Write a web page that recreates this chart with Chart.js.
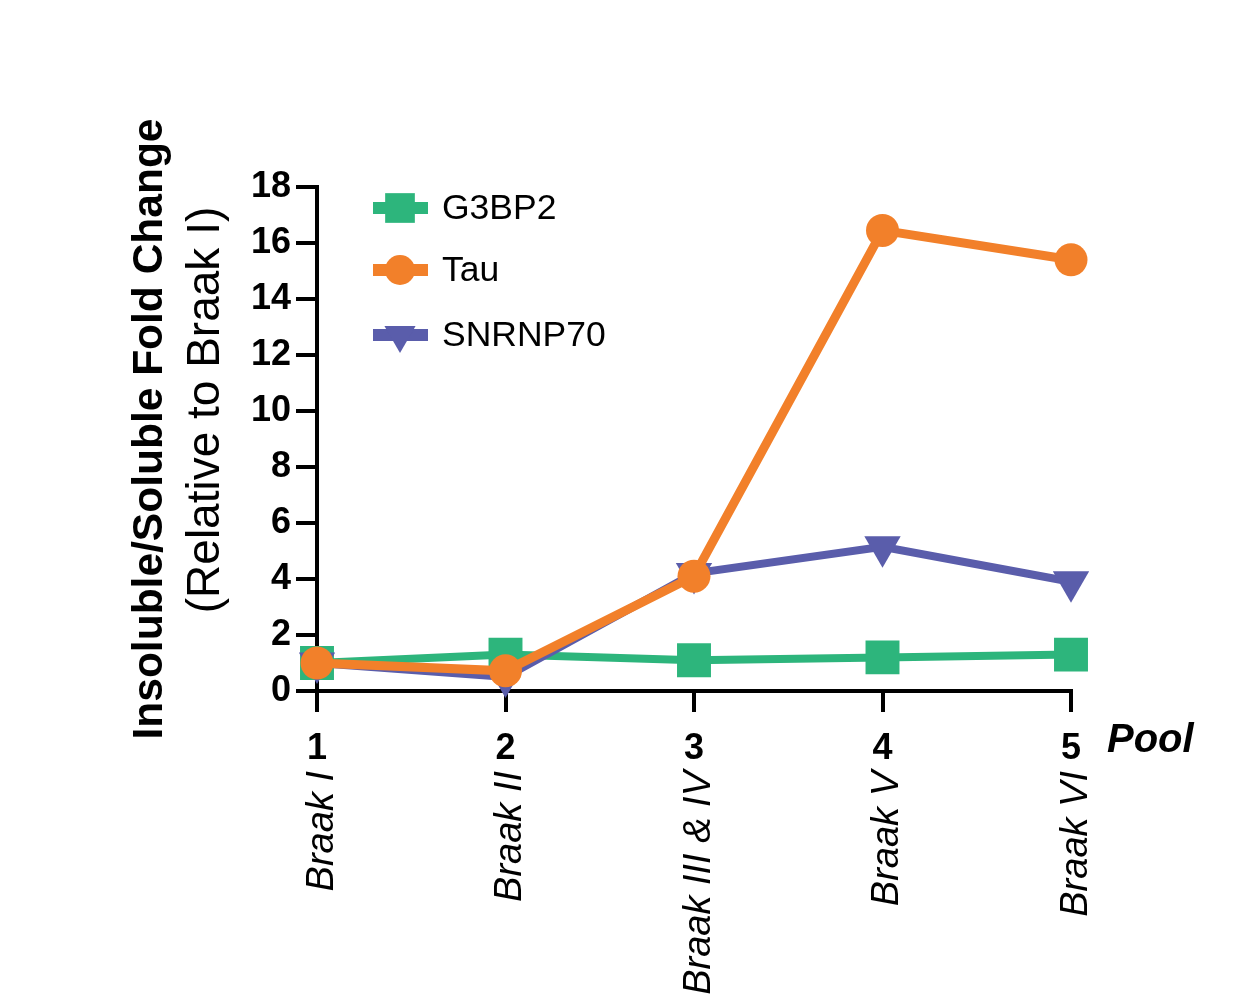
<!DOCTYPE html>
<html>
<head>
<meta charset="utf-8">
<script src="https://cdn.jsdelivr.net/npm/chart.js@4.4.1/dist/chart.umd.min.js"></script>
<style>
  html, body { margin: 0; padding: 0; background: #fff; }
  #wrap { width: 1235px; height: 996px; }
</style>
</head>
<body>
<div id="wrap"><canvas id="chart" width="1235" height="996"></canvas></div>
<script>
// Valeurs
const pools = [1, 2, 3, 4, 5];
const stageLabels = ['Braak I', 'Braak II', 'Braak III & IV', 'Braak V', 'Braak VI'];
const g3bp2 = [1.0, 1.3, 1.1, 1.2, 1.3];
const tau = [1.0, 0.72, 4.1, 16.45, 15.4];
const snrnp70 = [1.0, 0.5, 4.2, 5.15, 3.9];
const yTicks = [0, 2, 4, 6, 8, 10, 12, 14, 16, 18];

const FONT = '"Liberation Sans", Arial, Helvetica, sans-serif';

function toPoints(values) {
    return pools.map((p, i) => ({ x: p, y: values[i] }));
}

// Légende dessinée à la main (ligne + marqueur), axe Y en deux lignes, libellés Braak pivotés
const extrasPlugin = {
    id: 'extras',
    afterDraw(chart) {
        const ctx = chart.ctx;
        const xScale = chart.scales.x;

        // Titre de l'axe Y
        ctx.save();
        ctx.fillStyle = '#000';
        ctx.textAlign = 'center';
        ctx.textBaseline = 'middle';
        ctx.translate(150, 429);
        ctx.rotate(-Math.PI / 2);
        ctx.font = 'bold 42.5px ' + FONT;
        ctx.fillText('Insoluble/Soluble Fold Change', 0, 0);
        ctx.restore();

        ctx.save();
        ctx.fillStyle = '#000';
        ctx.textAlign = 'center';
        ctx.textBaseline = 'middle';
        ctx.translate(206, 410);
        ctx.rotate(-Math.PI / 2);
        ctx.font = '46px ' + FONT;
        ctx.fillText('(Relative to Braak I)', 0, 0);
        ctx.restore();

        // Libellés Braak sous les numéros de pool
        stageLabels.forEach((label, i) => {
            const px = xScale.getPixelForValue(pools[i]);
            ctx.save();
            ctx.fillStyle = '#000';
            ctx.font = 'italic 38px ' + FONT;
            ctx.textAlign = 'right';
            ctx.textBaseline = 'middle';
            ctx.translate(px + 5, 771);
            ctx.rotate(-Math.PI / 2);
            ctx.fillText(label, 0, 0);
            ctx.restore();
        });

        // "Pool"
        ctx.save();
        ctx.fillStyle = '#000';
        ctx.font = 'bold italic 40px ' + FONT;
        ctx.textAlign = 'left';
        ctx.textBaseline = 'middle';
        ctx.fillText('Pool', 1107, 741);
        ctx.restore();

        // Légende
        const rows = [208, 270, 335];
        const legendOrder = [0, 1, 2];
        legendOrder.forEach((dsIndex, r) => {
            const ds = chart.data.datasets[dsIndex];
            const y = rows[r];
            ctx.save();
            ctx.strokeStyle = ds.borderColor;
            ctx.lineWidth = 12;
            ctx.beginPath();
            ctx.moveTo(373, y);
            ctx.lineTo(428, y);
            ctx.stroke();
            ctx.fillStyle = ds.borderColor;
            ctx.strokeStyle = ds.borderColor;
            Chart.helpers.drawPoint(ctx, {
                pointStyle: ds.pointStyle,
                radius: ds.legendRadius,
                rotation: ds.pointRotation || 0,
                borderWidth: 0
            }, 400, y);
            ctx.fillStyle = '#000';
            ctx.font = '35.5px ' + FONT;
            ctx.textAlign = 'left';
            ctx.textBaseline = 'middle';
            ctx.fillText(ds.label, 442, y + 1);
            ctx.restore();
        });
    }
};

const ctx = document.getElementById('chart').getContext('2d');
new Chart(ctx, {
    type: 'line',
    data: {
        datasets: [
            {
                label: 'G3BP2',
                data: toPoints(g3bp2),
                borderColor: '#2DB57C',
                backgroundColor: '#2DB57C',
                pointBackgroundColor: '#2DB57C',
                borderWidth: 8,
                pointStyle: 'rect',
                pointRadius: 24,
                legendRadius: 21,
                pointBorderWidth: 0,
                order: 3,
                clip: false
            },
            {
                label: 'Tau',
                data: toPoints(tau),
                borderColor: '#F2802A',
                backgroundColor: '#F2802A',
                pointBackgroundColor: '#F2802A',
                borderWidth: 9,
                pointStyle: 'circle',
                pointRadius: 16.5,
                legendRadius: 15,
                pointBorderWidth: 0,
                order: 1,
                clip: false
            },
            {
                label: 'SNRNP70',
                data: toPoints(snrnp70),
                borderColor: '#5A5DAB',
                backgroundColor: '#5A5DAB',
                pointBackgroundColor: '#5A5DAB',
                borderWidth: 8,
                pointStyle: 'triangle',
                pointRotation: 180,
                pointRadius: 21,
                legendRadius: 18,
                pointBorderWidth: 0,
                order: 2,
                clip: false
            }
        ]
    },
    options: {
        responsive: false,
        animation: false,
        devicePixelRatio: 1,
        layout: { padding: { top: 187, right: 164, left: 0, bottom: 0 } },
        plugins: {
            legend: { display: false },
            tooltip: { enabled: false },
            title: { display: false }
        },
        elements: { line: { tension: 0 } },
        scales: {
            x: {
                type: 'linear',
                min: 1,
                max: 5,
                afterFit(scale) { scale.height = 305; },
                afterBuildTicks(scale) { scale.ticks = pools.map(v => ({ value: v })); },
                border: { display: true, color: '#000', width: 4 },
                grid: {
                    display: true,
                    drawOnChartArea: false,
                    drawTicks: true,
                    tickLength: 21,
                    tickWidth: 4,
                    tickColor: '#000',
                    color: '#000',
                    lineWidth: 4
                },
                ticks: {
                    color: '#000',
                    padding: 15,
                    maxRotation: 0,
                    font: { family: FONT, size: 36, weight: 'bold' },
                    callback: v => String(v)
                }
            },
            y: {
                type: 'linear',
                min: 0,
                max: 18,
                afterFit(scale) { scale.width = 317; },
                afterBuildTicks(scale) { scale.ticks = yTicks.map(v => ({ value: v })); },
                border: { display: true, color: '#000', width: 4 },
                grid: {
                    display: true,
                    drawOnChartArea: false,
                    drawTicks: true,
                    tickLength: 21,
                    tickWidth: 4,
                    tickColor: '#000',
                    color: '#000',
                    lineWidth: 4
                },
                ticks: {
                    color: '#000',
                    padding: 5,
                    font: { family: FONT, size: 36, weight: 'bold' },
                    callback: v => String(v)
                }
            }
        }
    },
    plugins: [extrasPlugin]
});
</script>
</body>
</html>
